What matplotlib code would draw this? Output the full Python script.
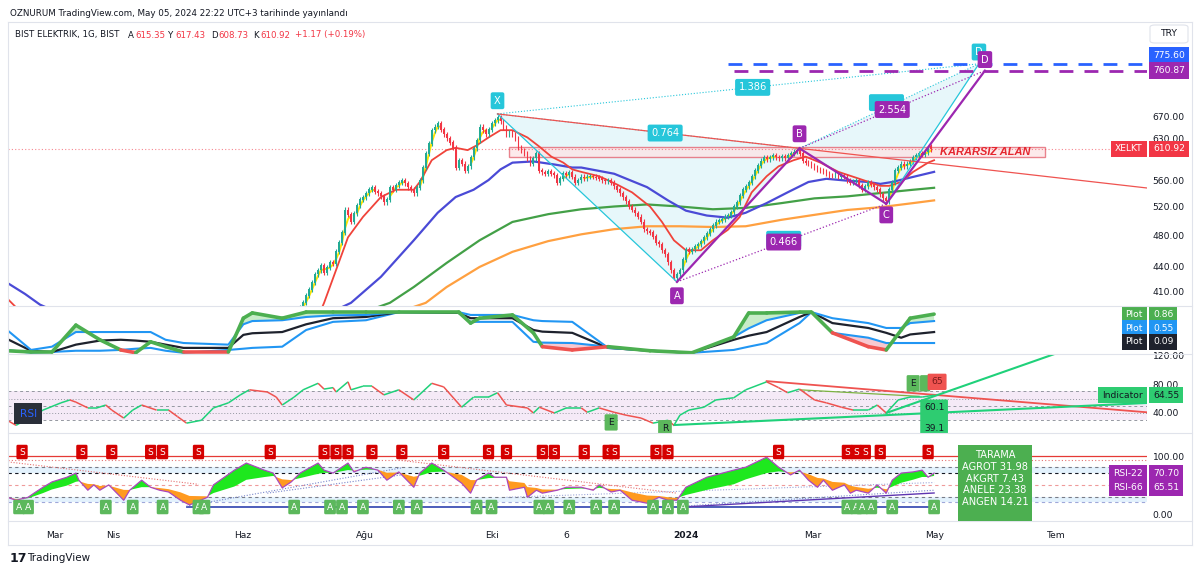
import numpy as np
import pandas as pd
import matplotlib
matplotlib.use('Agg')
import matplotlib.pyplot as plt
from matplotlib.collections import LineCollection
from matplotlib.patches import Polygon, Rectangle, FancyBboxPatch
from matplotlib.lines import Line2D

plt.rcParams['font.family'] = ['DejaVu Sans']

W, H = 1200, 574
FS = 6.6

# ---------------- data ----------------
# x axis labels and the bar index they sit on (bar 0 = 2023-03-01)
tick_labels = ['Mar', 'Nis', 'Haz', 'Ağu', 'Eki', '6', '2024', 'Mar', 'May', 'Tem']
tick_bars = [0, 19.4, 62.9, 103.7, 146, 171, 211, 253.5, 294, 335]

# daily closes, first one at bar 80
close_start = 80
closes = [380, 388, 392, 397,
          405, 412, 420, 430, 435, 441, 432, 438, 445, 443,
          458, 470, 483, 515, 508, 498, 510, 522, 530, 534,
          540, 545, 548, 542, 540, 535, 526, 530, 549, 545,
          552, 556, 560, 555, 549, 545, 540, 548, 560, 580,
          603, 620, 644, 650, 657, 645, 637, 630, 622, 613,
          580, 592, 586, 575, 582, 597, 612, 626, 650, 644,
          637, 645, 657, 662, 668, 660, 648, 637, 640, 637,
          630, 613, 608, 603, 595, 586, 595, 603, 575, 572,
          570, 574, 570, 568, 556, 562, 570, 568, 572, 565,
          556, 560, 565, 563, 565, 566, 565, 564, 562, 560,
          558, 560, 556, 550, 545, 540, 534, 528, 520, 515,
          510, 505, 498, 488, 485, 483, 478, 470, 468, 460,
          455, 445, 435, 426, 430, 435, 448, 461, 458, 461,
          465, 468, 472, 477, 482, 488, 493, 498, 500, 502,
          505, 507, 512, 520, 526, 536, 545, 550, 556, 566,
          575, 583, 591, 597, 594, 597, 600, 597, 595, 598,
          595, 600, 603, 606, 608, 603, 591, 588, 586, 583,
          580, 577, 575, 573, 570, 568, 567, 570, 565, 567,
          565, 560, 556, 558, 560, 552, 545, 550, 556, 553,
          549, 545, 538, 532, 528, 545, 556, 575, 580, 586,
          582, 586, 590, 597, 600, 603, 601, 605, 609.75, 610.92]
last_open = 615.35

# moving averages (bar index, price)
ma_red_i = [-16, -13, -8, 40, 85, 90, 98, 103, 109, 114, 120, 122, 126, 131, 134, 138, 141, 145,
            149, 153, 158, 162, 166, 170, 173, 176, 182, 188, 193, 199, 203, 207, 211, 216,
            220, 225, 229, 233, 238, 242, 247, 251, 256, 262, 269, 276, 279, 283, 287, 292, 294]
ma_red_v = [402, 392, 380, 300, 360, 397, 477, 505, 534, 545, 545, 557, 592, 609, 613, 609, 617,
            631, 644, 644, 631, 615, 598, 588, 577, 573, 566, 553, 541, 520, 498, 473, 460, 460,
            473, 487, 505, 541, 566, 582, 592, 598, 588, 573, 562, 551, 551, 557, 573, 588, 592]
ma_blue_i = [-16, -10, -5, 20, 60, 99, 109, 120, 128, 134, 140, 145, 149, 153, 160, 167, 173,
             176, 187, 198, 205, 211, 218, 225, 231, 238, 245, 252, 258, 265, 272, 276,
             280, 287, 294]
ma_blue_v = [420, 407, 395, 360, 340, 397, 427, 473, 511, 534, 545, 560, 577, 588, 590, 585, 580,
             580, 570, 549, 529, 514, 507, 504, 511, 525, 541, 557, 562, 559, 557, 554,
             557, 565, 573]
ma_green_i = [60, 112, 120, 131, 142, 153, 165, 176, 187, 198, 209, 220, 231, 243, 254, 265,
              276, 287, 294]
ma_green_v = [340, 397, 415, 444, 473, 498, 509, 516, 520, 523, 520, 516, 518, 525, 532, 535,
              540, 545, 548]
ma_orange_i = [80, 124, 131, 142, 153, 165, 176, 187, 198, 209, 220, 231, 243, 254, 265, 276,
               287, 294]
ma_orange_v = [350, 397, 415, 439, 458, 472, 481, 488, 492, 492, 491, 492, 501, 508, 515, 519,
               525, 529]

# harmonic pattern points
pat_i = [148, 208, 249, 278, 311]          # X A B C D
pat_p = [674, 421, 612, 524, 760.87]
cyan_d_i, cyan_d_p = 309, 775.60
box_i = [152, 331]
box_p = [598, 615]
last_price = 610.92

# panel 2 (normalised band oscillator)
p2_i = [-16, -8, -1, 7, 15, 22, 27, 32, 37, 43, 58, 63, 66, 76, 84, 93, 104, 115, 135,
        139, 142, 153, 160, 163, 173, 185, 199, 213, 227, 232, 238, 249, 253, 260, 272,
        278, 283, 286, 294]
p2_upper = [0.56, 0.07, 0.15, 0.51, 0.51, 0.51, 0.51, 0.51, 0.32, 0.24, 0.2, 0.7, 0.78, 0.8,
            0.88, 0.92, 0.93, 1.0, 1.0, 0.93, 0.93, 0.93, 0.8, 0.78, 0.76, 0.12, 0.05, 0.0,
            0.39, 0.6, 0.8, 0.98, 1.0, 0.85, 0.73, 0.61, 0.61, 0.73, 0.78]
p2_black = [0.34, 0.05, 0.02, 0.2, 0.3, 0.32, 0.3, 0.27, 0.2, 0.12, 0.12, 0.44, 0.48, 0.51,
            0.7, 0.85, 0.88, 1.0, 0.98, 0.85, 0.85, 0.85, 0.56, 0.52, 0.49, 0.12, 0.05, 0.0,
            0.32, 0.42, 0.51, 0.88, 1.0, 0.73, 0.61, 0.49, 0.37, 0.45, 0.51]
p2_lower = [0.07, 0.0, 0.02, 0.05, 0.05, 0.07, 0.1, 0.12, 0.05, 0.0, 0.07, 0.1, 0.12, 0.15,
            0.56, 0.76, 0.8, 1.0, 0.98, 0.76, 0.76, 0.76, 0.27, 0.25, 0.24, 0.15, 0.05, 0.0,
            0.07, 0.15, 0.24, 0.73, 1.0, 0.49, 0.37, 0.24, 0.24, 0.24, 0.24]
p2_fast = [0.05, 0.02, 0.02, 0.68, 0.32, 0.07, 0.0, 0.27, 0.15, 0.02, 0.02, 0.85, 0.98, 0.85,
           1.0, 1.0, 1.0, 1.0, 1.0, 0.73, 0.85, 0.93, 0.49, 0.15, 0.07, 0.15, 0.05, 0.0,
           0.39, 0.98, 0.98, 1.0, 1.0, 0.49, 0.15, 0.07, 0.56, 0.85, 0.95]
p2_tags = [('0.86', '#4caf50'), ('0.55', '#2196f3'), ('0.09', '#1e222d')]

# panel 3 RSI
rsi_i = [-16, -13, -4, 2, 5, 7, 11, 14, 17, 19, 23, 26, 29, 34, 38, 41, 44, 49, 53, 58, 62,
         65, 71, 74, 76, 80, 83, 88, 90, 93, 94, 98, 99, 103, 106, 110, 115, 120, 126, 130,
         136, 140, 145, 148, 151, 158, 160, 162, 167, 171, 176, 178, 182, 187, 191, 196,
         200, 205, 207, 209, 212, 217, 221, 227, 231, 238, 242, 245, 249, 254, 258, 263,
         267, 272, 275, 278, 282, 286, 290, 294]
rsi_v = [30, 23, 44, 54, 58, 55, 47, 47, 51, 44, 33, 44, 51, 44, 44, 35, 26, 30, 47, 54, 65,
         72, 69, 62, 51, 62, 72, 81, 73, 75, 69, 83, 72, 77, 77, 65, 72, 58, 81, 76,
         48, 62, 62, 68, 51, 47, 40, 48, 40, 47, 47, 41, 47, 41, 37, 33,
         26, 30, 23, 37, 44, 48, 58, 61, 72, 83, 75, 68, 73, 58, 54, 48,
         44, 44, 51, 40, 58, 62, 62, 64.55]

# panel 4 oscillator
p4_i = [-16, -13, -9, -7, -4, -1, 4, 7, 8, 11, 13, 15, 18, 23, 25, 29, 32, 35, 38, 42, 45,
        51, 53, 60, 64, 70, 73, 76, 79, 82, 88, 90, 93, 98, 100, 104, 108, 111, 115, 120,
        122, 126, 130, 136, 139, 141, 145, 147, 151, 152, 157, 158, 161, 163, 168, 171,
        176, 180, 182, 186, 189, 193, 198, 202, 205, 208, 211, 218, 227, 231, 238, 242,
        246, 249, 252, 255, 257, 260, 264, 266, 268, 272, 275, 278, 280, 283, 287, 290,
        292, 294]
p4_v = [30, 25, 30, 37, 47, 56, 64, 71, 59, 42, 51, 42, 51, 25, 42, 59, 47, 42, 39, 25, 17,
        30, 51, 76, 88, 76, 71, 46, 56, 71, 88, 76, 71, 88, 73, 81, 76, 59, 73, 47,
        71, 88, 76, 54, 37, 59, 71, 64, 64, 42, 47, 30, 42, 37, 42, 47,
        47, 42, 51, 39, 42, 25, 20, 30, 25, 25, 47, 64, 76, 81, 98, 81,
        68, 76, 59, 47, 59, 42, 51, 37, 42, 37, 51, 37, 59, 71, 73, 76,
        64, 71]
s_marks = [-11, 9, 19, 32, 36, 48, 72, 90, 94, 98, 106, 116, 130, 145, 151, 163, 167, 177,
           185, 187, 201, 205, 242, 265, 268, 271, 276, 292]
a_marks = [-12, -9, 17, 26, 36, 48, 50, 80, 92, 96, 103, 115, 121, 141, 146, 162, 165, 172,
           181, 187, 200, 205, 210, 265, 268, 270, 273, 280, 294]
rsi22, rsi66 = 70.70, 65.51
tarama = [('AGROT', 31.98), ('AKGRT', 7.43), ('ANELE', 23.38), ('ANGEN', 14.21)]

# ---------------- colours ----------------
UP, DN = '#22ab94', '#f23645'
CYAN, PURPLE, BLUE = '#26c6da', '#9c27b0', '#2962ff'
TXT = '#131722'
GRID = '#e0e3eb'

fig = plt.figure(figsize=(W / 100, H / 100), dpi=100)


def px_axes(x0, y0, x1, y1, **kw):
    return fig.add_axes([x0 / W, 1 - y1 / H, (x1 - x0) / W, (y1 - y0) / H], **kw)


XL, XR = 8, 1147
ax1 = px_axes(XL, 22, XR, 306)
ax2 = px_axes(XL, 306, XR, 354, sharex=ax1)
ax3 = px_axes(XL, 354, XR, 433, sharex=ax1)
ax4 = px_axes(XL, 433, XR, 521, sharex=ax1)
for ax in (ax1, ax2, ax3, ax4):
    for s in ax.spines.values():
        s.set_visible(False)
    ax.yaxis.tick_right()
    ax.tick_params(axis='y', length=0, pad=4, labelsize=FS, labelcolor=TXT)
    ax.tick_params(axis='x', length=0, labelbottom=False)
    ax.set_facecolor('white')
ax1.set_xlim(-15.7, 365.2)


def rtag(ax, y, text, fc, name=None, dy=0, tc='white'):
    kw = dict(xy=(1, y), xycoords=ax.get_yaxis_transform(), textcoords='offset points',
              va='center', fontsize=FS, color=tc, annotation_clip=False, zorder=10)
    ax.annotate(text, xytext=(4.3, dy), ha='left',
                bbox=dict(boxstyle='square,pad=0.4', fc=fc, ec='none'), **kw)
    if name:
        ax.annotate(name, xytext=(-3.0, dy), ha='right',
                    bbox=dict(boxstyle='square,pad=0.4', fc=fc, ec='none'), **kw)


# ---------------- main price panel ----------------
ax1.set_yscale('log')
ax1.set_ylim(393.5, 872)
pticks = [410, 440, 480, 520, 560, 630, 670]
ax1.set_yticks(pticks)
ax1.set_yticklabels(['%.2f' % t for t in pticks])
ax1.yaxis.set_minor_locator(matplotlib.ticker.NullLocator())

c = np.array(closes, dtype=float)
o = np.r_[c[0] * 0.99, c[:-1]]
o[-1] = last_open
xi = np.arange(close_start, close_start + len(c))
up = c >= o
WICK = 0.007
hi = np.maximum(o, c) * (1 + WICK)
lo = np.minimum(o, c) * (1 - WICK)
cols = np.where(up, UP, DN)
ax1.vlines(xi, lo, hi, colors=cols, lw=0.8, zorder=4)
ax1.bar(xi, np.abs(c - o) + 0.5, bottom=np.minimum(o, c), width=0.6, color=cols, zorder=4)

yel = pd.Series(c).rolling(3).mean().values
yel_m = np.ma.masked_where(np.r_[False, np.diff(yel) <= 0], yel)
ax1.plot(xi, yel_m, color='#ffe500', lw=1.4, zorder=3)

ax1.plot(ma_orange_i, ma_orange_v, color='#ffa040', lw=1.6, zorder=3)
ax1.plot(ma_green_i, ma_green_v, color='#43a047', lw=1.6, zorder=3)
ax1.plot(ma_blue_i, ma_blue_v, color='#4a4ad6', lw=1.6, zorder=3)
ax1.plot(ma_red_i, ma_red_v, color='#f0433a', lw=1.3, zorder=3)

X, A, B, C, D = [(i, p) for i, p in zip(pat_i, pat_p)]
Dc = (cyan_d_i, cyan_d_p)
ax1.add_patch(Polygon([X, A, B], closed=True, fc='#e3f6fa', ec='none', alpha=0.85, zorder=1))
ax1.add_patch(Polygon([B, C, Dc], closed=True, fc='#e3f6fa', ec='none', alpha=0.85, zorder=1))


def seg(p, q, **kw):
    ax1.plot([p[0], q[0]], [p[1], q[1]], **kw)


seg(X, A, color=CYAN, lw=0.9, zorder=5)
seg(C, Dc, color=CYAN, lw=0.9, zorder=5)
seg(X, B, color=CYAN, lw=0.8, ls=':', zorder=5)
seg(X, Dc, color=CYAN, lw=0.8, ls=':', zorder=5)
seg(B, Dc, color=CYAN, lw=0.8, ls=':', zorder=5)
seg(A, B, color=PURPLE, lw=1.6, zorder=6)
seg(B, C, color=PURPLE, lw=1.6, zorder=6)
seg(C, D, color=PURPLE, lw=1.6, zorder=6)
seg(A, C, color=PURPLE, lw=0.9, ls=':', zorder=6)
seg(B, D, color=PURPLE, lw=0.9, ls=':', zorder=6)

# red trend line through X and B, extended
slope = (np.log(B[1]) - np.log(X[1])) / (B[0] - X[0])
tx = np.array([X[0], 366])
ax1.plot(tx, np.exp(np.log(X[1]) + slope * (tx - X[0])), color='#ef5350', lw=0.9, zorder=5)

# dashed targets
ax1.plot([225, 366], [cyan_d_p] * 2, color=BLUE, lw=2, ls=(0, (5, 4)), zorder=5)
ax1.plot([227, 366], [D[1]] * 2, color=PURPLE, lw=2, ls=(0, (5, 4)), zorder=5)

# KARARSIZ ALAN zone
ax1.add_patch(Rectangle((box_i[0], box_p[0]), box_i[1] - box_i[0], box_p[1] - box_p[0],
                        fc='#fde3e5', ec='#e35d6a', lw=1.0, alpha=0.75, zorder=2))
ax1.text(296, np.sqrt(box_p[0] * box_p[1]), 'KARARSIZ ALAN', color='#e5262f', fontsize=7.9,
         family='Liberation Sans', fontstyle='italic', fontweight='bold', va='center',
         ha='left', zorder=7)
ax1.axhline(last_price, color='#f23645', lw=0.8, ls=(0, (1, 2)), alpha=0.6, zorder=2)


def ptag(pt, text, fc, dy, dx=0, size=FS + 0.5):
    ax1.annotate(text, xy=pt, xytext=(dx, dy), textcoords='offset points', ha='center',
                 va='center', color='white', fontsize=size, zorder=9,
                 bbox=dict(boxstyle='round,pad=0.35,rounding_size=0.2', fc=fc, ec='none'))


def ratio(p, q, f, text, fc, dx=0, dy=0):
    i = p[0] + f * (q[0] - p[0])
    v = np.exp(np.log(p[1]) + f * (np.log(q[1]) - np.log(p[1])))
    ptag((i, v), text, fc, dy, dx)


ptag(X, 'X', CYAN, 9.5)
ptag(Dc, 'D', CYAN, 8.5)
ptag(A, 'A', PURPLE, -10)
ptag(B, 'B', PURPLE, 10.5)
ptag(C, 'C', PURPLE, -8)
ptag(D, 'D', PURPLE, 8)
ratio(X, B, 0.555, '0.764', CYAN)
ratio(X, Dc, 0.53, '1.386', CYAN)
ratio(A, C, 0.51, '         ', CYAN, dy=2)      # cyan twin peeking behind
ratio(A, C, 0.51, '0.466', PURPLE)
ratio(B, Dc, 0.5, '         ', CYAN, dx=-2, dy=2.5)
ratio(B, D, 0.5, '2.554', PURPLE)

rtag(ax1, cyan_d_p, '%.2f' % cyan_d_p, BLUE, dy=6)
rtag(ax1, D[1], '%.2f' % D[1], PURPLE)
rtag(ax1, last_price, '%.2f' % last_price, '#f23645', name='XELKT')

# ---------------- panel 2 ----------------
ax2.set_ylim(-0.03, 1.15)
ax2.set_yticks([])
pi = np.array(p2_i, float)
fu, fb, fl, ff = (np.array(a, float) for a in (p2_upper, p2_black, p2_lower, p2_fast))
ax2.fill_between(pi, ff, fu, where=ff > fu, interpolate=True, color='#c8ecc9', lw=0)
ax2.fill_between(pi, ff, fl, where=ff < fl, interpolate=True, color='#f8c8d0', lw=0)
ax2.plot(pi, fl, color='#2196f3', lw=1.5)
ax2.plot(pi, fb, color='#1e222d', lw=1.6)
ax2.plot(pi, fu, color='#2196f3', lw=1.5)
pts = np.column_stack([pi, ff])
segs = np.stack([pts[:-1], pts[1:]], axis=1)
red = (ff[:-1] + ff[1:]) < (fl[:-1] + fl[1:]) - 0.01
ax2.add_collection(LineCollection(segs, colors=np.where(red, '#ef5350', '#4caf50'), lw=2.6,
                                  capstyle='round'))
for k, (val, fc) in enumerate(p2_tags):
    rtag(ax2, ff[-1], val, fc, name='Plot', dy=-k * 10)

# ---------------- panel 3 RSI ----------------
ax3.set_ylim(12.4, 121.4)
ax3.set_yticks([40, 80, 120])
ax3.set_yticklabels(['40.00', '80.00', '120.00'])
ax3.axhspan(30, 70, color='#f3e5f5', alpha=0.8, lw=0, zorder=0)
for lvl, ls in [(70, (0, (3, 3))), (50, (0, (3, 3))), (30, (0, (3, 3))), (60, (0, (1, 2))),
                (40, (0, (1, 2)))]:
    ax3.axhline(lvl, color='#9598a1', lw=0.7, ls=ls, zorder=1)
ri = np.array(rsi_i, float)
rv = np.array(rsi_v, float)
pts = np.column_stack([ri, rv])
segs = np.stack([pts[:-1], pts[1:]], axis=1)
ax3.add_collection(LineCollection(segs, colors=np.where(np.diff(rv) >= 0, '#1fd17a', '#ef5350'),
                                  lw=1.1, zorder=3))
ax3.plot([238, 366], [84, 40.7], color='#ef5350', lw=1.3, zorder=2)
ax3.plot([207, 366], [23.4, 54], color='#1fd17a', lw=1.5, zorder=2)
ax3.plot([278, 334], [40, 121], color='#1fd17a', lw=1.5, zorder=2)
ax3.plot([249, 289], [72, 63], color='#7cb342', lw=0.9, zorder=2)


def rsitag(i, v, text, fc, tc=TXT, size=FS):
    ax3.text(i, v, text, ha='center', va='center', color=tc, fontsize=size, zorder=8,
             bbox=dict(boxstyle='round,pad=0.4,rounding_size=0.15', fc=fc, ec='none'))


rsitag(186, 27, 'E', '#5cb85c')
rsitag(204, 19, 'R', '#5cb85c')
rsitag(287, 81, 'E', '#5cb85c')
rsitag(291, 81, ' ', '#5cb85c')
rsitag(295, 83, '65', '#ef5350', tc='#7a1a1a')
rsitag(294, 33, '60.1\n\n39.1', '#2ecc71')
ax3.text(-11.8, 39, 'RSI', color=BLUE, fontsize=FS + 1, ha='left', va='center', zorder=8,
         bbox=dict(boxstyle='square,pad=0.5', fc='#2a2e39', ec='none'))
rtag(ax3, rv[-1], '%.2f' % rv[-1], '#2ecc71', name='Indicator', tc=TXT)

# ---------------- panel 4 ----------------
ax4.set_ylim(-10.2, 139)
ax4.set_yticks([0, 100])
ax4.set_yticklabels(['0.00', '100.00'])
ax4.axhspan(71, 81, color='#e3f2fd', lw=0, zorder=0)
ax4.axhspan(22, 30, color='#e3f2fd', lw=0, zorder=0)
ax4.axhline(100, color='#e53935', lw=0.9, zorder=1)
ax4.axhline(93, color='#e57373', lw=0.8, ls=(0, (1, 2)), zorder=1)
ax4.axhline(81, color='#787b86', lw=0.8, ls=(0, (3, 3)), zorder=1)
ax4.axhline(71, color='#131722', lw=0.8, ls=(0, (3, 3)), zorder=1)
ax4.axhline(51, color='#ef9a9a', lw=0.8, ls=(0, (3, 3)), zorder=1)
ax4.axhline(30, color='#787b86', lw=0.8, ls=(0, (3, 3)), zorder=1)
ax4.axhline(22, color='#9fa8da', lw=0.8, ls=(0, (3, 3)), zorder=1)
ax4.plot([44, 294], [13.5, 13.5], color='#3f51b5', lw=1.3, zorder=2)
ax4.plot([210, 294], [13.6, 37.3], color='#5e35b1', lw=1.0, zorder=2)
for (a, b), col in [(((-15.7, 90), (48, 52)), '#e57373'), (((115, 93), (208, 37)), '#e57373'),
                    (((44, 15), (116, 80)), '#7986cb'), (((71, 37), (116, 68)), '#7986cb'),
                    (((210, 15), (294, 42)), '#7986cb'), (((151, 30), (294, 55)), '#9fa8da')]:
    ax4.plot([a[0], b[0]], [a[1], b[1]], color=col, lw=0.8, ls=(0, (1, 1.5)), zorder=2)
fi = np.array(p4_i, float)
fv = np.array(p4_v, float)
sv = pd.Series(fv).ewm(span=6).mean().values
ax4.fill_between(fi, fv, sv, where=fv >= sv, interpolate=True, color='#1ee81e', lw=0, zorder=3)
ax4.fill_between(fi, fv, sv, where=fv < sv, interpolate=True, color='#ff9a1f', lw=0, zorder=3)
ax4.plot(fi, fv, color='#ab47bc', lw=0.9, zorder=4)
tr = ax4.get_xaxis_transform()
for s in s_marks:
    ax4.text(s, 0.784, 'S', transform=tr, ha='center', va='center', color='white',
             fontsize=FS, zorder=8,
             bbox=dict(boxstyle='round,pad=0.3,rounding_size=0.15', fc='#d50000', ec='none'))
for a in a_marks:
    ax4.text(a, 0.159, 'A', transform=tr, ha='center', va='center', color='white',
             fontsize=FS, zorder=8,
             bbox=dict(boxstyle='round,pad=0.3,rounding_size=0.15', fc='#5cb85c', ec='none'))
rtag(ax4, rsi22, '%.2f' % rsi22, PURPLE, name='RSI-22')
rtag(ax4, rsi22, '%.2f' % rsi66, PURPLE, name='RSI-66', dy=-10.5)

ax4.set_xticks(tick_bars)
ax4.set_xticklabels(tick_labels)
ax4.tick_params(axis='x', labelbottom=True, labelsize=FS, labelcolor=TXT, pad=7)
for lab in ax4.get_xticklabels():
    if lab.get_text() == '2024':
        lab.set_fontweight('bold')

# TARAMA box
fig.patches.append(Rectangle((958 / W, 1 - 521 / H), 74 / W, 76 / H, transform=fig.transFigure,
                             fc='#4caf50', ec='none', zorder=20))
for k, line in enumerate(['TARAMA'] + ['%s %.2f' % t for t in tarama]):
    fig.text(995 / W, 1 - (455 + 11.8 * k) / H, line, color='white', fontsize=FS + 0.5,
             ha='center', va='center', zorder=21)

# frame and separators
for y in (22, 306, 354, 433, 521, 545):
    fig.add_artist(Line2D([XL / W, 1192 / W], [1 - y / H] * 2, color=GRID, lw=0.8))
for x in (XL, 1192):
    fig.add_artist(Line2D([x / W] * 2, [1 - 545 / H, 1 - 22 / H], color=GRID, lw=0.8))
fig.patches.append(FancyBboxPatch((1150 / W, 1 - 43 / H), 38 / W, 18 / H, transform=fig.transFigure,
                                  boxstyle='round,pad=0,rounding_size=0.004', fc='white',
                                  ec=GRID, lw=0.8))
fig.text(1169 / W, 1 - 34 / H, 'TRY', fontsize=FS, color=TXT, ha='center', va='center')

# header texts
fig.text(10 / W, 1 - 14 / H, 'OZNURUM TradingView.com, May 05, 2024 22:22 UTC+3 tarihinde yayınlandı',
         fontsize=6.3, color=TXT, va='center')
legend = [(15, 'BIST ELEKTRIK, 1G, BIST', TXT), (128, 'A', TXT), (135, '615.35', DN),
          (168, 'Y', TXT), (175, '617.43', DN), (211, 'D', TXT), (218, '608.73', DN),
          (253, 'K', TXT), (260, '610.92', DN), (295, '+1.17 (+0.19%)', DN)]
for x, t, col in legend:
    fig.text(x / W, 1 - 35 / H, t, fontsize=6.2, color=col, va='center')
fig.text(10 / W, 1 - 558 / H, '17', fontsize=9, fontweight='bold', color=TXT, va='center')
fig.text(27 / W, 1 - 558 / H, 'TradingView', fontsize=7.5, color=TXT, va='center')

fig.savefig('out.png', dpi=100, facecolor='white')
